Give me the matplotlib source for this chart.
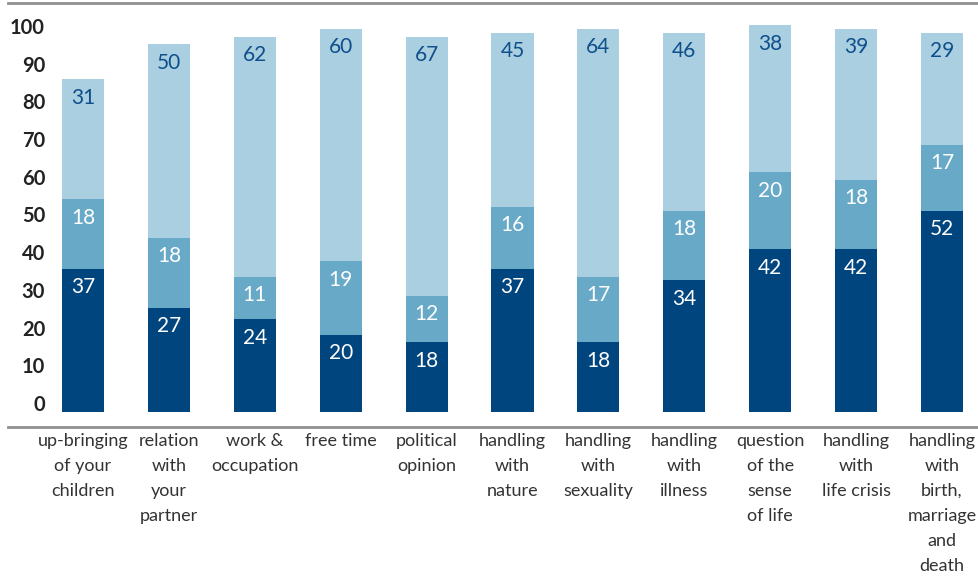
import numpy as np
import matplotlib.pyplot as plt

categories = ["up-bringing\nof your\nchildren", "relation\nwith\nyour\npartner",
              "work &\noccupation", "free time", "political\nopinion",
              "handling\nwith\nnature", "handling\nwith\nsexuality",
              "handling\nwith\nillness", "question\nof the\nsense\nof life",
              "handling\nwith\nlife crisis", "handling\nwith\nbirth,\nmarriage\nand\ndeath"]
dark = [37, 27, 24, 20, 18, 37, 18, 34, 42, 42, 52]
mid = [18, 18, 11, 19, 12, 16, 17, 18, 20, 18, 17]
light = [31, 50, 62, 60, 67, 45, 64, 46, 38, 39, 29]
yticks = [0, 10, 20, 30, 40, 50, 60, 70, 80, 90, 100]

c_dark = "#01457f"
c_mid = "#68a9c8"
c_light = "#aacfe0"
c_text_light = "#0e4f8c"

plt.rcParams['font.family'] = ['Lato', 'DejaVu Sans']

fig = plt.figure(figsize=(9.79, 5.83), dpi=100)
ax = fig.add_axes([8/979, (583-427)/583, 971/979, (427-3)/583])

x = np.arange(len(categories))
w = 0.49
ax.bar(x, dark, w, color=c_dark)
ax.bar(x, mid, w, bottom=dark, color=c_mid)
bot2 = np.array(dark) + np.array(mid)
ax.bar(x, light, w, bottom=bot2, color=c_light)

# value labels near top of each segment
off = 2.2
for i in range(len(x)):
    ax.text(x[i], dark[i] - off, str(dark[i]), ha='center', va='top',
            color='white', fontsize=15)
    ax.text(x[i], bot2[i] - off, str(mid[i]), ha='center', va='top',
            color='white', fontsize=15)
    ax.text(x[i], bot2[i] + light[i] - off, str(light[i]), ha='center', va='top',
            color=c_text_light, fontsize=15)

ax.set_xlim((8-83)/85.9, (979-83)/85.9)
ax.set_ylim(-(427-412)/3.87, (412-3)/3.87)

# y labels, drawn as text (slightly compressed vs. bar scale like the original)
for k, t in enumerate(yticks):
    ypix = 405 - k*37.7
    ax.text((45-83)/85.9, (412-ypix)/3.87, str(t), ha='right', va='center',
            fontsize=14.5, fontweight='bold', color='#222222')

ax.set_yticks([])
ax.set_xticks(x)
ax.set_xticklabels(categories, fontsize=13, color='#333333', linespacing=1.7)
ax.tick_params(axis='x', length=0, pad=4)

for s in ['left', 'right']:
    ax.spines[s].set_visible(False)
for s in ['top', 'bottom']:
    ax.spines[s].set_color('#909090')
    ax.spines[s].set_linewidth(2)

fig.savefig("out.png", dpi=100)
